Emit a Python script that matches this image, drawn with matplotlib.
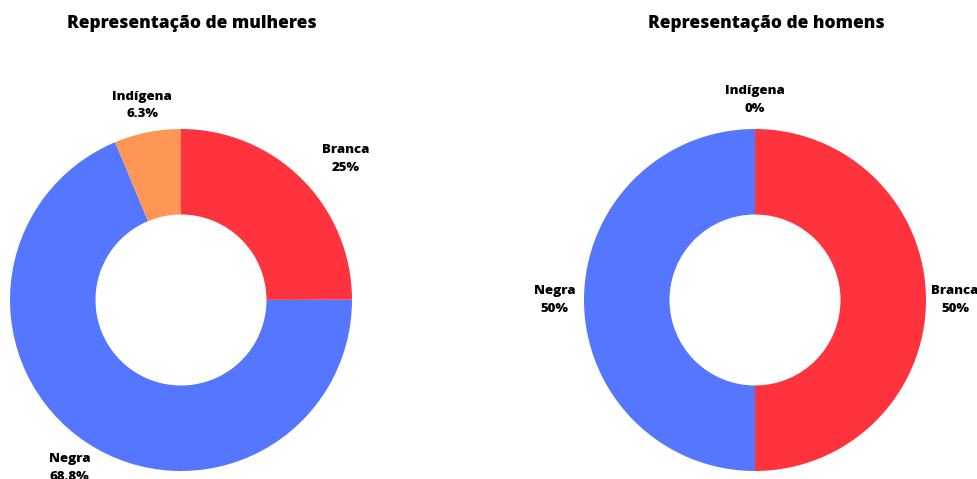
import numpy as np
import matplotlib.pyplot as plt

plt.rcParams['font.family'] = ['Open Sans', 'DejaVu Sans']

# data
categorias = ["Branca", "Negra", "Indígena"]
mulheres = [25.0, 68.8, 6.3]
homens = [50.0, 50.0, 0.0]
rotulos_mulheres = ["25%", "68.8%", "6.3%"]
rotulos_homens = ["50%", "50%", "0%"]
cores = ["#FF333D", "#5577FF", "#FF9655"]

W, H = 977, 479
fig = plt.figure(figsize=(W / 100, H / 100), dpi=100)


def donut(cx, cy, r, values, pct, title, dists, nudge):
    ax = fig.add_axes([(cx - r) / W, (H - cy - r) / H, 2 * r / W, 2 * r / H])
    wedges, _ = ax.pie(values, colors=cores, startangle=90, counterclock=False,
                       radius=1, wedgeprops=dict(width=0.5, linewidth=0))
    for w, cat, p, d, n in zip(wedges, categorias, pct, dists, nudge):
        ang = np.deg2rad((w.theta1 + w.theta2) / 2 + n)
        ax.text(d * np.cos(ang), d * np.sin(ang), f"{cat}\n{p}", ha="center", va="center",
                fontsize=9.5, fontweight=800, linespacing=1.65, clip_on=False)
    ax.set_xlim(-1, 1)
    ax.set_ylim(-1, 1)
    ax.set_aspect("equal")
    ax.axis("off")
    fig.text((cx + 11) / W, 1 - 24 / H, title, ha="center", va="center",
             fontsize=12.5, fontweight=800)


donut(181, 300, 171, mulheres, rotulos_mulheres, "Representação de mulheres",
      [1.27, 1.18, 1.16], [-4.5, 0, 0])
donut(755, 300, 171, homens, rotulos_homens, "Representação de homens",
      [1.17, 1.17, 1.17], [0, 0, 0])

fig.savefig("out.png", dpi=100)
